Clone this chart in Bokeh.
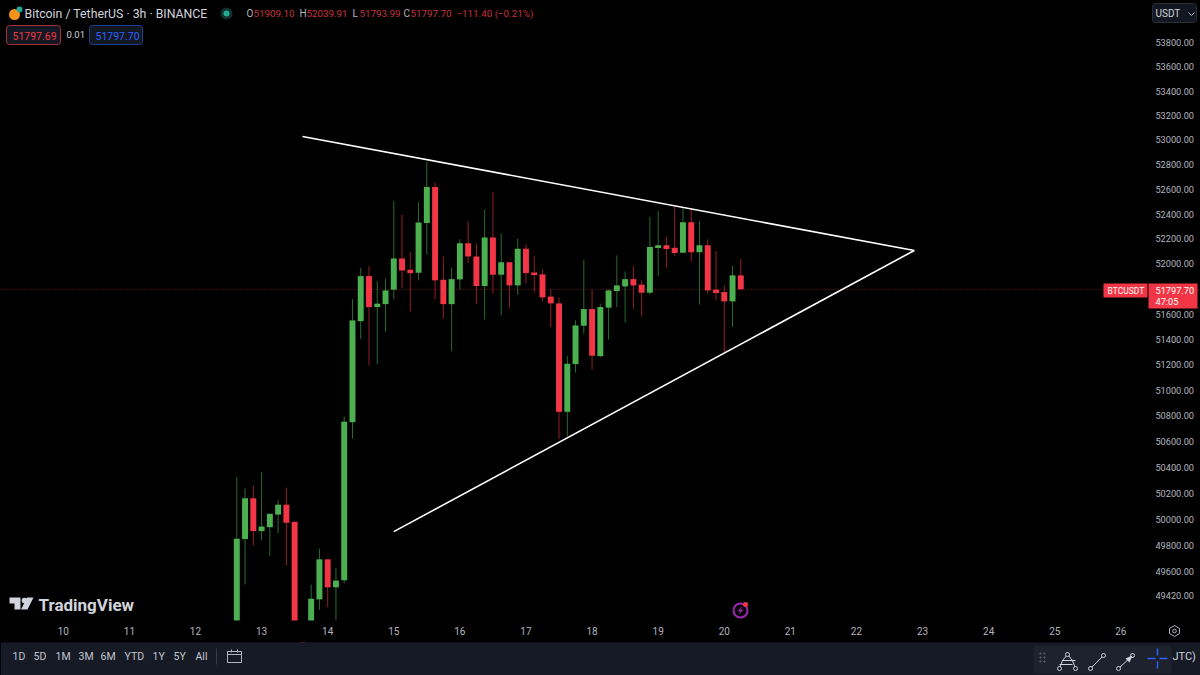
from bokeh.plotting import figure
from bokeh.models import Range1d, FixedTicker, LinearScale, Label, Span
from bokeh.core.properties import value
from bokeh.embed import file_html
from bokeh.resources import INLINE

FONT = "Roboto"
day_ticks = [-21, -13, -5, 3, 11, 19, 27, 35, 43, 51, 59, 67, 75, 83, 91, 99, 107]
day_labels = ["10","11","12","13","14","15","16","17","18","19","20","21","22","23","24","25","26"]
price_ticks = [53800,53600,53400,53200,53000,52800,52600,52400,52200,52000,51600,51400,51200,51000,
               50800,50600,50400,50200,50000,49800,49600,49420]

opens = [49150,49848,50161,49909,49939,50036,50112,49980,49200,49100,49388,49693,49480,49533,50751,51545,51903,51657,
         51680,51795,52044,51954,51930,52328,52618,51874,51680,51877,52165,52060,51824,52211,51914,52014,51829,52122,
         51932,51917,51740,51686,50832,51206,51509,51641,51269,51652,51784,51821,51879,51835,51771,52127,52149,52130,
         52090,52334,52093,52149,51795,51776,51702,51909.10]
highs = [50326,50238,50261,50362,50042,50145,50243,49982,49210,49500,49774,49693,49630,50795,51720,51970,51983,51863,
         51882,52503,52396,52095,52497,52820,52654,52060,51970,52197,52342,52163,52436,52578,52243,52014,52203,52155,
         52060,51956,51797,51733,51269,51551,52034,51795,51684,51797,52068,51940,51980,51869,52377,52425,52216,52457,
         52447,52444,52345,52197,52103,51829,51986,52039.91]
lows = [49100,49502,49800,49838,49718,49893,49647,49150,49000,49050,49310,49329,49228,49512,50623,51405,51196,51204,
        51463,51718,51808,51622,51869,52076,51718,51564,51308,51797,52010,51684,51559,51765,51591,51652,51755,51843,
        51773,51702,51498,50619,50641,51139,51445,51162,51261,51400,51657,51535,51644,51582,51755,51901,51970,52063,
        52085,52020,51676,51763,51708,51300,51501,51793.99]
closes = [49851,50161,49909,49944,50042,50112,49973,49200,49050,49393,49693,49480,49531,50754,51551,51903,51657,51684,
          51789,52044,51948,51927,52332,52618,51869,51680,51879,52165,52060,51824,52211,51914,52014,51829,52122,51927,
          51911,51734,51686,50832,51209,51511,51641,51272,51657,51789,51829,51879,51829,51771,52135,52149,52119,52087,
          52334,52093,52149,51789,51768,51702,51909,51797.70]
last_price = 51797.70
upper_line_x = [7.95, 82.0]
upper_line_y = [53029, 52108]
lower_line_x = [19.0, 82.0]
lower_line_y = [49905, 52108]

GREEN, RED = "#4caf50", "#f23645"
TXT = "#b2b5be"
BAR = "#161a25"
W, H = 1200, 675

p = figure(frame_width=W, frame_height=H, width=W, height=H, y_axis_type="log",
           y_axis_location="right", x_axis_location="below",
           x_range=Range1d(-28.6, 116.64), y_range=Range1d(48814, 54148),
           output_backend="svg", toolbar_location=None,
           background_fill_color="#000000", border_fill_color="#000000", min_border=0)
p.outline_line_color = None
p.grid.visible = False
for ax in (p.xaxis[0], p.yaxis[0]):
    ax.axis_line_color = None
    ax.major_tick_line_color = None
    ax.minor_tick_line_color = None
    ax.major_tick_out = 0
    ax.minor_tick_out = 0
    ax.major_tick_in = 0
    ax.major_label_text_color = TXT
    ax.major_label_text_font = FONT
p.xaxis[0].major_label_text_font_size = "10px"
p.yaxis[0].major_label_text_font_size = "9.2px"
p.xaxis[0].ticker = FixedTicker(ticks=day_ticks)
p.xaxis[0].major_label_overrides = dict(zip(day_ticks, day_labels))
p.xaxis[0].major_label_standoff = 6
p.xaxis[0].fixed_location = 49228
p.yaxis[0].ticker = FixedTicker(ticks=price_ticks)
p.yaxis[0].major_label_overrides = {t: f"{t:.2f}" for t in price_ticks}
p.yaxis[0].major_label_standoff = 9
p.yaxis[0].fixed_location = 110.1

p.extra_x_ranges = {"px": Range1d(0, W)}
p.extra_y_ranges = {"px": Range1d(H, 0)}
p.extra_x_scales = {"px": LinearScale()}
p.extra_y_scales = {"px": LinearScale()}
PX = dict(x_range_name="px", y_range_name="px")

p.add_layout(Span(location=last_price, dimension="width", line_color=RED, line_alpha=0.55, line_dash="1 2", line_width=1, level="underlay"))

idx = list(range(len(opens)))
colors = [GREEN if c >= o else RED for o, c in zip(opens, closes)]
p.segment(idx, highs, idx, lows, line_color=colors, line_width=1, line_alpha=0.6)
bot = [min(o, c) for o, c in zip(opens, closes)]
top = [max(o, c) for o, c in zip(opens, closes)]
p.vbar(x=idx, bottom=bot, top=top, width=0.72, fill_color=colors, line_color=None)

p.line(upper_line_x, upper_line_y, line_color="#ffffff", line_width=1.6)
p.line(lower_line_x, lower_line_y, line_color="#ffffff", line_width=1.6)

# time-scale band and bottom bar hide what runs below the pane
p.quad(left=[0], right=[W], top=[620], bottom=[642], fill_color="#000000", line_color=None, **PX)
p.quad(left=[0], right=[W], top=[642], bottom=[H], fill_color=BAR, line_color=None, **PX)

def lab(x, sy, text, color=TXT, size=11, style="normal"):
    p.add_layout(Label(x=x, y=H - sy, x_units="screen", y_units="screen", text=text, text_color=color,
                       text_font=FONT, text_font_size=f"{size}px", text_font_style=style,
                       text_baseline="middle", level="overlay"))

# legend row
p.circle(x=[14], y=[14], radius=5.5, fill_color="#f7931a", line_color=None, **PX)
p.circle(x=[19], y=[9], radius=3, fill_color="#26a69a", line_color=None, **PX)
lab(24, 13, "Bitcoin / TetherUS · 3h · BINANCE", "#d1d4dc", 12.3)
p.circle(x=[226], y=[13], radius=6, fill_color="#12302c", line_color=None, **PX)
p.circle(x=[226], y=[13], radius=3, fill_color="#22ab94", line_color=None, **PX)
for xx, head, val in [(246, "O", "51909.10"), (299, "H", "52039.91"), (352, "L", "51793.99"), (403, "C", "51797.70")]:
    lab(xx, 13, head, "#b2b5be", 10)
    lab(xx + 7, 13, val, "#c8323e", 9.8)
lab(456, 13, "−111.40 (−0.21%)", "#c8323e", 9.8)

# bid / ask boxes
p.quad(left=[6], right=[60], top=[25], bottom=[44], fill_color="#131722", line_color="#a8303a", border_radius=3, **PX)
p.quad(left=[89], right=[142], top=[25], bottom=[44], fill_color="#131722", line_color="#1f3f8f", border_radius=3, **PX)
lab(12, 35, "51797.69", RED, 10.5)
lab(66, 34, "0.01", "#d1d4dc", 9.5)
lab(95, 35, "51797.70", "#2962ff", 10.5)

# watermark
p.patch([9, 20, 20, 14, 14, 9], [597, 597, 609, 609, 603, 603], fill_color="#d1d4dc", line_color=None, **PX)
p.circle(x=[24], y=[600], radius=2.8, fill_color="#d1d4dc", line_color=None, **PX)
p.patch([26.5, 33, 27, 20.5], [597, 597, 609, 609], fill_color="#d1d4dc", line_color=None, **PX)
lab(38, 604, "TradingView", "#d1d4dc", 17, "bold")

# lightning icon
p.circle(x=[740], y=[610], radius=7, fill_color=None, line_color="#9c27b0", line_width=2, **PX)
p.patch([742, 737, 740, 738, 743, 740], [605, 611, 611, 615, 609, 609], fill_color="#9c27b0", line_color=None, **PX)
p.circle(x=[745], y=[604], radius=2.5, fill_color="#f23645", line_color=None, **PX)

# price-scale furniture
p.quad(left=[1152], right=[1196], top=[3], bottom=[22], fill_color="#131722", line_color="#2a2e39", border_radius=3, **PX)
lab(1155, 13, "USDT", "#d1d4dc", 10)
p.line([1188, 1191, 1194], [12, 15, 12], line_color=TXT, **PX)
p.quad(left=[1103], right=[1147], top=[283], bottom=[297], fill_color=RED, line_color=None, level="overlay", **PX)
p.quad(left=[1148], right=[1197], top=[283], bottom=[308], fill_color=RED, line_color=None, level="overlay", **PX)
lab(1107, 290, "BTCUSDT", "#ffffff", 8.5)
lab(1155, 290, "51797.70", "#ffffff", 9.2)
lab(1155, 301, "47:05", "#ffffff", 9.2)
p.patch([1174, 1179, 1179, 1174, 1169, 1169], [625, 628, 633, 636, 633, 628], fill_color=None, line_color=TXT, **PX)
p.circle(x=[1174], y=[630.5], radius=1.8, fill_color=None, line_color=TXT, **PX)

# bottom bar contents
for x, t in zip([12, 33, 55, 78, 100, 124, 152, 173, 195], ["1D", "5D", "1M", "3M", "6M", "YTD", "1Y", "5Y", "All"]):
    p.text(x=[x], y=[656], text=[t], text_color="#c3c6ce", text_font=value(FONT), text_font_size="10.5px", text_baseline="middle", **PX)
p.segment([216], [648], [216], [664], line_color="#363a45", **PX)
p.quad(left=[227], right=[241], top=[651], bottom=[662], fill_color=None, line_color="#b2b5be", **PX)
p.segment([227, 231, 237], [654, 649, 649], [241, 231, 237], [654, 652, 652], line_color="#b2b5be", **PX)
p.text(x=[1172], y=[656], text=["JTC)"], text_color="#d1d4dc", text_font=value(FONT), text_font_size="11px", text_baseline="middle", **PX)
p.quad(left=[1033], right=[1171], top=[645], bottom=[673], fill_color="#1e222d", line_color=None, border_radius=3, **PX)
p.scatter(x=[1040, 1044, 1040, 1044, 1040, 1044], y=[653, 653, 657, 657, 661, 661], size=1.5, color="#50535e", **PX)
for x0, x1 in [(1090, 1103), (1118, 1132)]:
    p.segment([x0], [668], [x1], [655], line_color="#d1d4dc", **PX)
    p.circle(x=[x0, x1], y=[668, 655], radius=2, fill_color=BAR, line_color="#d1d4dc", **PX)
p.patch([1125, 1132, 1129], [658, 655, 662], fill_color="#d1d4dc", line_color=None, **PX)
p.multi_line([[1059, 1062, 1067, 1072, 1075], [1062, 1075], [1059, 1072]], [[668, 660, 654, 660, 668], [660, 660], [664, 664]], line_color="#d1d4dc", **PX)
p.circle(x=[1059, 1067, 1075], y=[668, 654, 668], radius=2, fill_color=BAR, line_color="#d1d4dc", **PX)
p.segment([1147, 1159, 1157, 1157], [658, 658, 648, 661], [1155, 1167, 1157, 1157], [658, 658, 655, 668], line_color="#2962ff", line_width=1.5, **PX)

html = file_html(p, INLINE)
html = html.replace("<head>", "<head><style>html,body{margin:0;padding:0;background:#000;overflow:hidden}</style>", 1)
open("out.html", "w").write(html)
